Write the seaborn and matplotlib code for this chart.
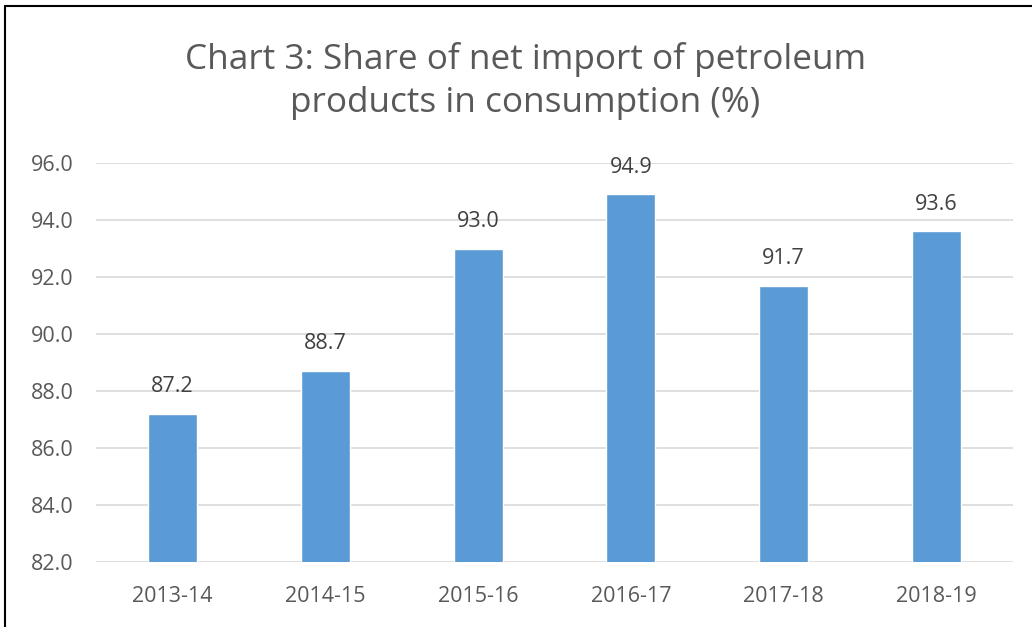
import matplotlib
matplotlib.use("Agg")
import matplotlib.pyplot as plt
from matplotlib.lines import Line2D
import seaborn as sns
import pandas as pd

categories = ["2013-14", "2014-15", "2015-16", "2016-17", "2017-18", "2018-19"]
values = [87.2, 88.7, 93.0, 94.9, 91.7, 93.6]
yticks = [82.0, 84.0, 86.0, 88.0, 90.0, 92.0, 94.0, 96.0]
title = "Chart 3: Share of net import of petroleum\nproducts in consumption (%)"

sns.set_theme(style="white")
plt.rcParams["font.family"] = ["Open Sans", "DejaVu Sans"]

df = pd.DataFrame({"year": categories, "share": values})

fig = plt.figure(figsize=(10.32, 6.27), dpi=100)
ax = fig.add_axes([96/1032, 1 - 562/627, (1013-96)/1032, (562-163)/627])

sns.barplot(data=df, x="year", y="share", color="#5B9BD5", saturation=1,
            width=0.32, ax=ax, zorder=3)

ax.set_ylim(82, 96)
ax.set_yticks(yticks)
ax.set_yticklabels([f"{t:.1f}" for t in yticks])
ax.grid(axis="y", color="#D9D9D9", linewidth=1.2, zorder=0)
ax.set_axisbelow(True)
for s in ax.spines.values():
    s.set_visible(False)
ax.set_xlabel("")
ax.set_ylabel("")
ax.tick_params(axis="both", length=0, labelsize=15.5, colors="#595959")
ax.tick_params(axis="y", pad=16)
ax.tick_params(axis="x", pad=17)

for i, v in enumerate(values):
    ax.annotate(f"{v:.1f}", (i, v), xytext=(0, 12), textcoords="offset points",
                ha="center", va="bottom", fontsize=15.5, color="#404040")

fig.text(0.509, 1 - 81/627, title, ha="center", va="center", fontsize=25.3,
         color="#595959", linespacing=1.38)

fig.add_artist(Line2D([5/1032, 1], [1 - 6/627, 1 - 6/627], color="black", linewidth=1.5))
fig.add_artist(Line2D([5/1032, 5/1032], [0, 1 - 6/627], color="black", linewidth=1.5))

fig.savefig("out.png", dpi=100, facecolor="white")
